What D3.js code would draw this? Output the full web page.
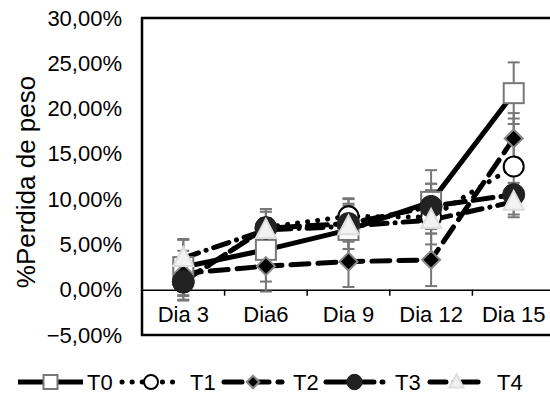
<!DOCTYPE html>
<html>
<head>
<meta charset="utf-8">
<script src="https://cdn.jsdelivr.net/npm/d3@7"></script>
<style>
  body { margin: 0; background: #fff; }
  svg { display: block; font-family: "Liberation Sans", Arial, sans-serif; }
</style>
</head>
<body>
<svg width="550" height="394"></svg>
<script>
// data (% weight loss)
var categories = ["Dia 3", "Dia6", "Dia 9", "Dia 12", "Dia 15"];
var t0 = [2.5, 4.4, 6.6, 9.7, 21.7];
var t1 = [0.8, 6.9, 8.1, 8.0, 13.6];
var t2 = [1.8, 2.6, 3.1, 3.3, 16.7];
var t3 = [0.9, 6.8, 7.3, 9.2, 10.5];
var t4 = [3.5, 6.6, 7.0, 7.7, 9.7];
var t0Err = [3.1, 3.5, 3.4, 3.5, 3.4];
var t1Err = [2.0, 2.0, 2.0, 3.0, 5.3];
var t2Err = [2.5, 2.8, 2.8, 2.9, 2.8];
var t3Err = [2.0, 2.1, 2.0, 2.5, 1.3];
var t4Err = [2.0, 2.0, 2.5, 4.0, 1.7];
var yTicks = [-5, 0, 5, 10, 15, 20, 25, 30];

var series = [
  {name: "T0", values: t0, err: t0Err, marker: "square", dash: null},
  {name: "T1", values: t1, err: t1Err, marker: "open", dash: "0.1 10"},
  {name: "T2", values: t2, err: t2Err, marker: "diamond", dash: "18 9"},
  {name: "T3", values: t3, err: t3Err, marker: "dot", dash: "20 8"},
  {name: "T4", values: t4, err: t4Err, marker: "triangle", dash: "16 8 0.1 8"}
];

var svg = d3.select("svg");
var plotLeft = 142, plotRight = 555, plotTop = 18, plotBottom = 335;

var x = d3.scaleBand().domain(categories).range([plotLeft, plotRight]);
var y = d3.scaleLinear().domain([-5, 30]).range([plotBottom, plotTop]);
var cx = function(i) { return x(categories[i]) + x.bandwidth() / 2; };

// y tick labels
svg.append("g")
    .attr("transform", "translate(" + plotLeft + ",0)")
    .call(d3.axisLeft(y).tickValues(yTicks).tickSize(0).tickPadding(20)
      .tickFormat(function(d) { return d3.format(".2f")(d).replace(".", ",") + "%"; }))
    .call(function(g) { g.select(".domain").remove(); })
    .selectAll("text")
      .style("font-size", "22px")
      .attr("fill", "#000");

// y title
svg.append("text")
    .attr("transform", "translate(35,182) rotate(-90)")
    .attr("text-anchor", "middle")
    .style("font-size", "26px")
    .text("%Perdida de peso");

// zero axis with category ticks
var xAxis = svg.append("g")
    .attr("transform", "translate(0," + y(0) + ")")
    .call(d3.axisBottom(x).tickSize(0).tickPadding(17));
xAxis.select(".domain").attr("stroke", "#000").attr("stroke-width", 1.5);
xAxis.selectAll("text").style("font-size", "22px").attr("fill", "#000");
xAxis.selectAll(".bound")
  .data(categories.slice(1))
  .enter().append("line")
    .attr("x1", function(d) { return x(d); })
    .attr("x2", function(d) { return x(d); })
    .attr("y1", 0).attr("y2", 6)
    .attr("stroke", "#000").attr("stroke-width", 1.5);

// plot frame
svg.append("rect")
    .attr("x", plotLeft).attr("y", plotTop)
    .attr("width", plotRight - plotLeft).attr("height", plotBottom - plotTop)
    .attr("fill", "none").attr("stroke", "#000").attr("stroke-width", 2.5);

// error bars
series.forEach(function(s) {
  var g = svg.append("g").attr("stroke", "#777").attr("stroke-width", 2);
  s.values.forEach(function(v, i) {
    var lo = y(v - s.err[i]), hi = y(v + s.err[i]);
    g.append("line").attr("x1", cx(i)).attr("x2", cx(i)).attr("y1", lo).attr("y2", hi);
    g.append("line").attr("x1", cx(i) - 6).attr("x2", cx(i) + 6).attr("y1", lo).attr("y2", lo);
    g.append("line").attr("x1", cx(i) - 6).attr("x2", cx(i) + 6).attr("y1", hi).attr("y2", hi);
  });
});

var line = d3.line()
    .x(function(d, i) { return cx(i); })
    .y(function(d) { return y(d); });

function drawMarker(g, type, px, py, k) {
  if (type === "square") {
    g.append("rect").attr("x", px - 10 * k).attr("y", py - 10 * k)
      .attr("width", 20 * k).attr("height", 20 * k)
      .attr("fill", "#fff").attr("stroke", "#777").attr("stroke-width", 2);
  } else if (type === "open") {
    g.append("circle").attr("cx", px).attr("cy", py).attr("r", 10 * k)
      .attr("fill", "#fff").attr("stroke", "#000").attr("stroke-width", 2);
  } else if (type === "diamond") {
    g.append("path").attr("d", "M0,-9L9,0L0,9L-9,0Z")
      .attr("transform", "translate(" + px + "," + py + ") scale(" + k + ")")
      .attr("fill", "#000").attr("stroke", "#888").attr("stroke-width", 2 / k);
  } else if (type === "dot") {
    g.append("circle").attr("cx", px).attr("cy", py).attr("r", 11 * k)
      .attr("fill", "#222").attr("stroke", "#222");
  } else {
    g.append("path").attr("d", "M0,-11L10,8L-10,8Z")
      .attr("transform", "translate(" + px + "," + py + ") scale(" + k + ")")
      .attr("fill", "#f2f2f2").attr("stroke", "#ddd").attr("stroke-width", 2 / k);
  }
}

// lines and markers
series.forEach(function(s) {
  svg.append("path")
      .datum(s.values)
      .attr("d", line)
      .attr("fill", "none")
      .attr("stroke", "#000")
      .attr("stroke-width", 5)
      .attr("stroke-linecap", s.dash ? "round" : "butt")
      .attr("stroke-dasharray", s.dash);
});
series.forEach(function(s) {
  var g = svg.append("g");
  s.values.forEach(function(v, i) { drawMarker(g, s.marker, cx(i), y(v), 1); });
});

// legend
var legX = [18, 122, 224, 326, 430];
var legW = [65, 58, 58, 57, 53];
var legTextX = [87, 190, 293, 395, 497];
var legY = 382;
series.forEach(function(s, k) {
  var g = svg.append("g");
  g.append("line")
      .attr("x1", legX[k]).attr("x2", legX[k] + legW[k])
      .attr("y1", legY).attr("y2", legY)
      .attr("stroke", "#000").attr("stroke-width", 5)
      .attr("stroke-linecap", s.dash ? "round" : "butt")
      .attr("stroke-dasharray", s.dash);
  drawMarker(g, s.marker, legX[k] + legW[k] / 2, legY, 0.7);
  g.append("text")
      .attr("x", legTextX[k])
      .attr("y", legY)
      .attr("dy", "0.35em")
      .style("font-size", "22px")
      .text(s.name);
});
</script>
</body>
</html>
